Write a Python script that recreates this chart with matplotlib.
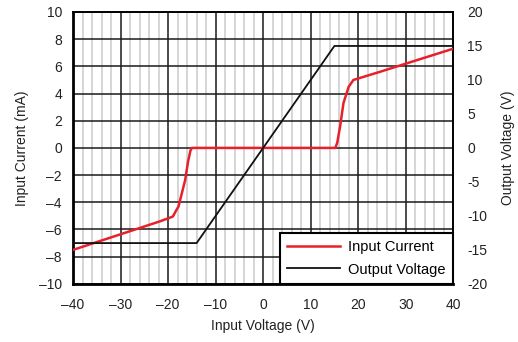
import numpy as np
import matplotlib
matplotlib.use("Agg")
import matplotlib.pyplot as plt

plt.rcParams['font.family'] = ['Liberation Sans', 'DejaVu Sans']

# Input current vs input voltage (mA)
vin_current = [-40, -21.7, -19.0, -18.3, -17.8, -16.4, -15.8, -15.3, -15.0,
               15.2, 15.6, 16.2, 16.9, 18.0, 19.0, 24.6, 40]
input_current = [-7.5, -5.4, -5.05, -4.6, -4.3, -2.35, -1.0, -0.2, 0.0,
                 0.0, 0.4, 1.6, 3.3, 4.5, 5.0, 5.6, 7.3]

# Output voltage vs input voltage (V)
vin_output = [-40, -14, 15, 40]
output_voltage = [-14, -14, 15, 15]

x_ticks = [-40, -30, -20, -10, 0, 10, 20, 30, 40]
left_ticks = [-10, -8, -6, -4, -2, 0, 2, 4, 6, 8, 10]
right_ticks = [-20, -15, -10, -5, 0, 5, 10, 15, 20]

fig = plt.figure(figsize=(5.18, 3.42), dpi=100)
ax = fig.add_axes([0.141, 0.170, 0.734, 0.795])

ax.set_xlim(-40, 40)
ax.set_ylim(-10, 10)
ax.set_xticks(x_ticks)
ax.set_xticks(np.arange(-40, 41, 2), minor=True)
ax.set_yticks(left_ticks)
ax.set_xticklabels([f"{t}".replace('-', '\u2013') for t in x_ticks])
ax.set_yticklabels([f"{t}".replace('-', '\u2013') for t in left_ticks])

ax.grid(which='minor', axis='x', color='#d2d2d2', linewidth=1.3)
ax.grid(which='major', color='#1a1a1a', linewidth=1.1)
ax.set_axisbelow(True)
ax.tick_params(which='both', length=0)
ax.tick_params(axis='y', pad=8, labelsize=10, colors='#222222')
ax.tick_params(axis='x', pad=10, labelsize=10, colors='#222222')
for side in ['left', 'bottom']:
    ax.spines[side].set_linewidth(2.0)
for side in ['top', 'right']:
    ax.spines[side].set_linewidth(1.4)

line_i, = ax.plot(vin_current, input_current, color='#e8202a', linewidth=1.8,
                  label='Input Current', zorder=3)

ax2 = ax.twinx()
ax2.set_ylim(-20, 20)
ax2.set_yticks(right_ticks)
ax2.set_yticklabels([str(t) for t in right_ticks])
ax2.tick_params(length=0, pad=10, labelsize=10, colors='#222222')
for sp in ax2.spines.values():
    sp.set_visible(False)

line_v, = ax2.plot(vin_output, output_voltage, color='#111111', linewidth=1.3,
                   label='Output Voltage')

ax.set_xlabel('Input Voltage (V)', fontsize=10, color='#222222', labelpad=5)
ax.set_ylabel('Input Current (mA)', fontsize=10, color='#222222', labelpad=7)
ax2.set_ylabel('Output Voltage (V)', fontsize=10, color='#222222', labelpad=10)

leg = ax2.legend(handles=[line_i, line_v], loc='lower right', borderaxespad=0,
                 fancybox=False, framealpha=1, edgecolor='black', fontsize=10.5,
                 handlelength=3.6, borderpad=0.5, labelspacing=0.6,
                 handletextpad=0.6)
leg.get_frame().set_linewidth(1.5)

fig.savefig('out.png', dpi=100)
